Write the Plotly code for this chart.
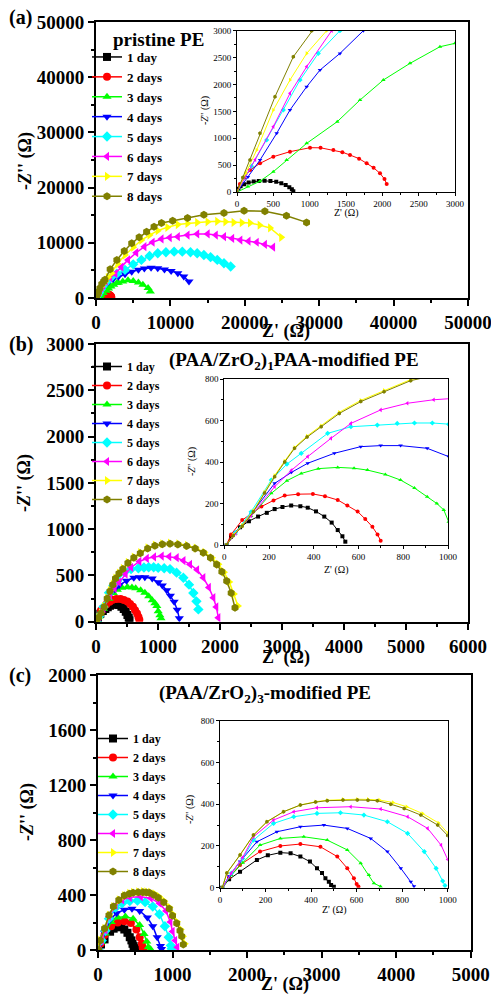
import plotly.graph_objects as go

# ---------------- data (Z' , -Z'' in ohm) ----------------
LABELS = ["1 day", "2 days", "3 days", "4 days", "5 days", "6 days", "7 days", "8 days"]
COLORS = ["#000000", "#FF0000", "#00FF00", "#0000FF", "#00FFFF", "#FF00FF", "#FFFF00", "#808000"]
SYMBOLS = ["square", "circle", "triangle-up", "triangle-down", "diamond",
           "triangle-left", "triangle-right", "hexagon"]

# panel (a) pristine PE
A1_X = [0, 20, 50, 100, 160, 230, 300, 380, 460, 540, 610, 670, 720, 755, 775]
A1_Y = [0, 60, 105, 145, 175, 195, 205, 208, 204, 190, 165, 130, 90, 50, 15]
A2_X = [0, 40, 100, 180, 317, 500, 729, 1005, 1150, 1326, 1450, 1555, 1680, 1784, 1880, 1968, 2030, 2060]
A2_Y = [0, 150, 270, 410, 533, 657, 750, 824, 822, 781, 740, 688, 620, 533, 450, 347, 240, 150]
A3_X = [0, 150, 316, 500, 683, 959, 1380, 1693, 2014, 2381, 2793, 3000, 3600, 4300, 5000, 5700, 6300, 7000, 7300]
A3_Y = [0, 100, 200, 378, 595, 905, 1308, 1711, 2083, 2393, 2702, 2765, 3000, 3200, 3100, 2800, 2400, 1800, 1200]
A4_X = [0, 150, 317, 546, 729, 959, 1142, 1417, 1739, 2300, 3000, 3900, 4800, 5700, 6500, 7400, 8300, 9200, 10100, 11000, 11800, 12500]
A4_Y = [0, 280, 595, 1091, 1525, 1959, 2268, 2578, 3000, 3450, 3850, 4300, 4750, 5100, 5350, 5500, 5400, 5150, 4900, 4500, 3900, 3000]
A5_X = [0, 200, 408, 638, 867, 1119, 1417, 2000, 2800, 3900, 5000, 6100, 7200, 8300, 9400, 10500, 11600, 12700, 13600, 14500, 15400, 16300, 17200, 18100]
A5_Y = [0, 480, 967, 1525, 2083, 2578, 3000, 3700, 4400, 5100, 6100, 6900, 7600, 8100, 8300, 8400, 8400, 8300, 8100, 7800, 7400, 6900, 6300, 5700]
A6_X = [0, 250, 500, 729, 959, 1303, 1900, 2600, 3400, 4300, 5400, 6500, 7600, 8800, 9900, 11000, 12300, 13600, 15000, 16100, 17200, 18300, 19400, 20500, 21600, 22700, 23800]
A6_Y = [0, 600, 1215, 1835, 2331, 3000, 3700, 4400, 5600, 6900, 8200, 9300, 10100, 10700, 10950, 11100, 11400, 11600, 11600, 11400, 11100, 10800, 10500, 10300, 10100, 9700, 9200]
A7_X = [0, 120, 271, 500, 729, 959, 1234, 1600, 2100, 2900, 3900, 5000, 6100, 7200, 8300, 9600, 11000, 12300, 13600, 15000, 16300, 17400, 18500, 19600, 20700, 22000, 23400, 24900]
A7_Y = [0, 350, 781, 1525, 2083, 2578, 3000, 3700, 4500, 6200, 7800, 9200, 10500, 11400, 12200, 12800, 13300, 13500, 13700, 13800, 13900, 13800, 13700, 13650, 13600, 13200, 12700, 11000]
A8_X = [0, 80, 179, 316, 523, 775, 1027, 1200, 1900, 2800, 3800, 4800, 5800, 6800, 7800, 8800, 10300, 12300, 14500, 17200, 19900, 22700, 25600, 28300]
A8_Y = [0, 270, 595, 1091, 1773, 2516, 3000, 3300, 5200, 6900, 8500, 9900, 11000, 12000, 12900, 13600, 14000, 14500, 15100, 15400, 15800, 15700, 14900, 13700]

# panel (b) (PAA/ZrO2)1PAA-modified PE
B1_X = [10, 30, 70, 110, 151, 190, 225, 260, 299, 340, 373, 410, 447, 480, 507, 528, 541]
B1_Y = [0, 40, 85, 115, 137, 155, 173, 183, 190, 187, 180, 162, 137, 108, 72, 42, 16]
B2_X = [10, 30, 80, 166, 220, 270, 330, 396, 450, 507, 550, 596, 630, 662, 685, 699]
B2_Y = [0, 50, 120, 185, 215, 238, 245, 246, 235, 217, 190, 161, 125, 88, 50, 21]
B3_X = [10, 50, 120, 210, 280, 344, 420, 507, 580, 640, 720, 788, 850, 907, 950, 981, 1003, 1030, 1048]
B3_Y = [0, 55, 140, 249, 310, 345, 368, 374, 370, 361, 340, 313, 275, 233, 200, 169, 112, 70, 36]
B4_X = [10, 50, 120, 225, 300, 373, 492, 610, 699, 788, 907, 1003, 1070, 1140, 1200, 1260, 1310, 1344]
B4_Y = [0, 60, 150, 297, 350, 394, 442, 474, 479, 479, 466, 426, 390, 340, 280, 215, 130, 36]
B5_X = [10, 50, 120, 210, 280, 344, 462, 566, 684, 773, 850, 930, 1003, 1100, 1194, 1300, 1409, 1500, 1570, 1620, 1651]
B5_Y = [0, 60, 160, 313, 390, 442, 538, 570, 578, 586, 588, 588, 582, 578, 568, 530, 475, 400, 310, 220, 133]
B6_X = [10, 50, 120, 225, 300, 373, 477, 566, 699, 818, 936, 1059, 1180, 1301, 1410, 1516, 1630, 1731, 1820, 1892, 1940, 1973]
B6_Y = [0, 55, 140, 281, 360, 426, 514, 586, 651, 683, 700, 709, 704, 691, 660, 619, 560, 475, 370, 259, 160, 43]
B7_X = [10, 40, 80, 130, 180, 225, 270, 314, 370, 433, 514, 610, 714, 833, 950, 1070, 1194, 1330, 1470, 1610, 1750, 1870, 1975, 2065, 2150, 2225, 2290]
B7_Y = [0, 48, 95, 165, 255, 335, 405, 470, 525, 575, 640, 697, 745, 797, 826, 842, 848, 842, 824, 795, 750, 690, 620, 535, 430, 300, 170]
B8_X = [10, 40, 80, 130, 180, 225, 270, 314, 370, 433, 514, 610, 714, 833, 950, 1070, 1194, 1320, 1462, 1600, 1731, 1846, 1946, 2030, 2108, 2180, 2242]
B8_Y = [0, 45, 90, 160, 250, 329, 400, 466, 520, 570, 634, 691, 739, 792, 820, 836, 842, 835, 817, 790, 745, 690, 619, 540, 439, 310, 151]

# panel (c) (PAA/ZrO2)3-modified PE
C1_X = [10, 40, 88, 162, 210, 265, 310, 353, 395, 426, 448, 463, 478, 488, 500]
C1_Y = [0, 40, 77, 133, 155, 168, 165, 149, 125, 93, 70, 45, 28, 13, 5]
C2_X = [10, 40, 88, 176, 265, 353, 441, 515, 559, 588, 600, 608]
C2_Y = [0, 50, 109, 173, 200, 209, 196, 149, 93, 45, 18, 6]
C3_X = [10, 50, 100, 176, 265, 368, 471, 559, 618, 654, 676, 705]
C3_Y = [0, 60, 120, 204, 236, 244, 228, 181, 117, 61, 21, 6]
C4_X = [10, 40, 88, 162, 250, 353, 456, 559, 662, 735, 794, 838, 852]
C4_Y = [0, 55, 125, 220, 268, 292, 300, 284, 236, 173, 93, 29, 7]
C5_X = [10, 50, 100, 147, 235, 324, 426, 529, 632, 735, 824, 897, 949, 978, 988]
C5_Y = [0, 70, 140, 228, 308, 340, 356, 359, 348, 316, 260, 173, 93, 32, 10]
C6_X = [10, 50, 100, 147, 235, 324, 426, 574, 706, 824, 912, 971, 1000, 1035, 1063]
C6_Y = [0, 70, 145, 244, 324, 364, 383, 388, 377, 340, 284, 204, 135, 70, 20]
C7_X = [10, 30, 88, 147, 206, 279, 353, 420, 471, 540, 603, 650, 700, 760, 820, 890, 960, 1000, 1060, 1110, 1140, 1165]
C7_Y = [0, 70, 157, 252, 316, 364, 396, 412, 419, 423, 424, 423, 420, 408, 388, 355, 310, 262, 205, 150, 100, 45]
C8_X = [10, 30, 88, 147, 206, 279, 353, 420, 471, 540, 603, 650, 691, 750, 809, 882, 956, 1000, 1056, 1100, 1123, 1145]
C8_Y = [0, 70, 157, 252, 316, 364, 396, 410, 417, 420, 420, 419, 417, 400, 380, 348, 300, 250, 195, 140, 100, 40]

PANEL_A = [(A1_X, A1_Y), (A2_X, A2_Y), (A3_X, A3_Y), (A4_X, A4_Y),
           (A5_X, A5_Y), (A6_X, A6_Y), (A7_X, A7_Y), (A8_X, A8_Y)]
PANEL_B = [(B1_X, B1_Y), (B2_X, B2_Y), (B3_X, B3_Y), (B4_X, B4_Y),
           (B5_X, B5_Y), (B6_X, B6_Y), (B7_X, B7_Y), (B8_X, B8_Y)]
PANEL_C = [(C1_X, C1_Y), (C2_X, C2_Y), (C3_X, C3_Y), (C4_X, C4_Y),
           (C5_X, C5_Y), (C6_X, C6_Y), (C7_X, C7_Y), (C8_X, C8_Y)]

# ---------------- figure ----------------
W, H = 491, 995
FONT = "Liberation Serif"


def px_x(v):
    return v / W


def px_y(v):
    return 1 - v / H


fig = go.Figure()

panels = [
    (PANEL_A, ("x", "y"), ("x2", "y2"), "legend"),
    (PANEL_B, ("x3", "y3"), ("x4", "y4"), "legend2"),
    (PANEL_C, ("x5", "y5"), ("x6", "y6"), "legend3"),
]

for data, (mx, my), (ix, iy), leg in panels:
    for i, (xs, ys) in enumerate(data):
        fig.add_trace(go.Scatter(
            x=xs, y=ys, mode="lines+markers", name=LABELS[i],
            line=dict(color=COLORS[i], width=1.5),
            marker=dict(symbol=SYMBOLS[i], size=8, color=COLORS[i]),
            xaxis=mx, yaxis=my, legend=leg, showlegend=True))
    for i, (xs, ys) in enumerate(data):
        fig.add_trace(go.Scatter(
            x=xs, y=ys, mode="lines+markers", name=LABELS[i],
            line=dict(color=COLORS[i], width=1),
            marker=dict(symbol=SYMBOLS[i], size=4, color=COLORS[i]),
            xaxis=ix, yaxis=iy, showlegend=False))


def main_axis(domain, rng, dtick, minor, anchor):
    return dict(domain=domain, range=rng, dtick=dtick, tick0=0, anchor=anchor,
                automargin=False, tickformat="d", ticklabeloverflow="allow",
                showline=True, linewidth=2, linecolor="black", mirror=True,
                ticks="outside", ticklen=6, tickwidth=2, tickcolor="black",
                minor=dict(ticks="outside", ticklen=3, tickwidth=1.5, dtick=minor, tickcolor="black"),
                showgrid=False, zeroline=False,
                tickfont=dict(family=FONT, size=19, color="black", weight="bold"))


def inset_axis(domain, rng, dtick, minor, anchor):
    return dict(domain=domain, range=rng, dtick=dtick, tick0=0, anchor=anchor,
                automargin=False, tickformat="d", ticklabeloverflow="allow",
                showline=True, linewidth=1, linecolor="black", mirror=True,
                ticks="outside", ticklen=3, tickwidth=1, tickcolor="black",
                minor=dict(ticks="outside", ticklen=2, tickwidth=1, dtick=minor, tickcolor="black"),
                showgrid=False, zeroline=False,
                tickfont=dict(family=FONT, size=9, color="black"))


mainA_x = [px_x(96), px_x(468)]
mainA_y = [px_y(298), px_y(22)]
insA_x = [px_x(237), px_x(455)]
insA_y = [px_y(192), px_y(30.7)]
mainB_x = [px_x(96), px_x(468)]
mainB_y = [px_y(621.7), px_y(344)]
insB_x = [px_x(224.3), px_x(448)]
insB_y = [px_y(545), px_y(379)]
mainC_x = [px_x(98), px_x(470.7)]
mainC_y = [px_y(950), px_y(675)]
insC_x = [px_x(220), px_x(447.7)]
insC_y = [px_y(887.7), px_y(720.7)]

fig.update_layout(
    width=W, height=H, margin=dict(l=0, r=0, t=0, b=0, autoexpand=False),
    paper_bgcolor="white", plot_bgcolor="white", showlegend=True,
    xaxis=main_axis(mainA_x, [0, 50000], 10000, 5000, "y"),
    yaxis=main_axis(mainA_y, [0, 50000], 10000, 5000, "x"),
    xaxis2=inset_axis(insA_x, [0, 3000], 500, 250, "y2"),
    yaxis2=inset_axis(insA_y, [0, 3000], 500, 250, "x2"),
    xaxis3=main_axis(mainB_x, [0, 6000], 1000, 500, "y3"),
    yaxis3=main_axis(mainB_y, [0, 3000], 500, 250, "x3"),
    xaxis4=inset_axis(insB_x, [0, 1000], 200, 100, "y4"),
    yaxis4=inset_axis(insB_y, [0, 800], 200, 100, "x4"),
    xaxis5=main_axis(mainC_x, [0, 5000], 1000, 500, "y5"),
    yaxis5=main_axis(mainC_y, [0, 2000], 400, 200, "x5"),
    xaxis6=inset_axis(insC_x, [0, 1000], 200, 100, "y6"),
    yaxis6=inset_axis(insC_y, [0, 800], 200, 100, "x6"),
)

leg_common = dict(xanchor="left", yanchor="top", bgcolor="rgba(0,0,0,0)",
                  borderwidth=0, tracegroupgap=0, itemwidth=30)
fig.update_layout(
    legend=dict(x=px_x(87), y=px_y(42), font=dict(family=FONT, size=13, color="black", weight="bold"), **leg_common),
    legend2=dict(x=px_x(87), y=px_y(352), font=dict(family=FONT, size=12, color="black", weight="bold"), **leg_common),
    legend3=dict(x=px_x(93), y=px_y(724), font=dict(family=FONT, size=12, color="black", weight="bold"), **leg_common),
)

ann_font = dict(family=FONT, size=20, color="black")
title_font = dict(family=FONT, size=19, color="black")
axt_font = dict(family=FONT, size=18, color="black")
iaxt_font = dict(family=FONT, size=10, color="black")
XT = "<b>Z' (Ω)</b>"
YT = "<b>-<i>Z</i>'' (Ω)</b>"
XTi = "Z' (Ω)"
YTi = "-<i>Z</i>'' (Ω)"


def ann(text, x, y, font, angle=0, xanchor="center"):
    return dict(text=text, x=px_x(x), y=px_y(y), xref="paper", yref="paper",
                xanchor=xanchor, yanchor="middle", showarrow=False, font=font,
                textangle=angle)


annotations = [
    ann("<b>(a)</b>", 7, 17, ann_font, xanchor="left"),
    ann("<b>(b)</b>", 7, 344, ann_font, xanchor="left"),
    ann("<b>(c)</b>", 7, 675, ann_font, xanchor="left"),
    ann("<b>pristine PE</b>", 111, 40, title_font, xanchor="left"),
    ann("<b>(PAA/ZrO<sub>2</sub>)<sub>1</sub>PAA-modified PE</b>", 167, 361, title_font, xanchor="left"),
    ann("<b>(PAA/ZrO<sub>2</sub>)<sub>3</sub>-modified PE</b>", 157, 694, title_font, xanchor="left"),
    # main axis titles
    ann(XT, 286, 331, axt_font),
    ann(YT, 25, 161, axt_font, angle=-90),
    ann(XT, 286, 657, axt_font),
    ann(YT, 25, 483, axt_font, angle=-90),
    ann(XT, 285, 984, axt_font),
    ann(YT, 27, 812, axt_font, angle=-90),
    # inset axis titles
    ann(XTi, 346, 213, iaxt_font),
    ann(YTi, 205, 111, iaxt_font, angle=-90),
    ann(XTi, 336, 570, iaxt_font),
    ann(YTi, 192, 462, iaxt_font, angle=-90),
    ann(XTi, 334, 910, iaxt_font),
    ann(YTi, 190, 810, iaxt_font, angle=-90),
]
fig.update_layout(annotations=annotations)

fig.write_html("out.html", config={"displayModeBar": False},
               post_script="document.body.style.margin='0';")
